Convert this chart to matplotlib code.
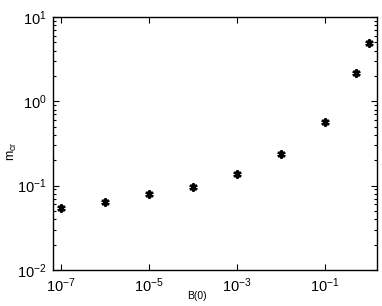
import numpy as np
import matplotlib
matplotlib.use("Agg")
import matplotlib.pyplot as plt
from matplotlib.ticker import LogLocator, NullLocator, NullFormatter

plt.rcParams['font.family'] = 'Liberation Sans'
plt.rcParams['mathtext.fontset'] = 'custom'
plt.rcParams['mathtext.rm'] = 'Liberation Sans'
plt.rcParams['mathtext.it'] = 'Liberation Sans:italic'

# values
b0 = [1e-7, 1e-6, 1e-5, 1e-4, 1e-3, 1e-2, 1e-1, 0.5, 1.0]
m_cr = [0.054, 0.064, 0.080, 0.097, 0.137, 0.235, 0.573, 2.19, 4.88]

fig = plt.figure(figsize=(3.82, 3.06), dpi=100)
ax = fig.add_axes([0.140, 0.118, 0.846, 0.826])

# asterisk markers, MATLAB style
ax.plot(b0, m_cr, linestyle='none', marker=(6, 2, 0), markersize=6,
        markeredgewidth=1.5, color='k')
ax.plot(b0, m_cr, linestyle='none', marker=(4, 2, 45), markersize=5,
        markeredgewidth=1.2, color='k')

ax.set_xscale('log')
ax.set_yscale('log')
ax.set_xlim(10**-7.17, 10**0.175)
ax.set_ylim(1e-2, 1e1)

ax.set_xticks([1e-7, 1e-5, 1e-3, 1e-1])
ax.xaxis.set_minor_locator(NullLocator())
ax.yaxis.set_major_locator(LogLocator(base=10, numticks=10))
ax.yaxis.set_minor_locator(LogLocator(base=10, subs=np.arange(2, 10), numticks=10))
ax.yaxis.set_minor_formatter(NullFormatter())

ax.tick_params(which='both', direction='in', top=True, right=True,
               labelsize=10.5, width=0.8)
ax.tick_params(which='major', length=4, pad=5)
ax.tick_params(which='minor', length=2)
for s in ax.spines.values():
    s.set_linewidth(1.0)

ax.set_xlabel('B(0)', fontsize=7.5)
ax.xaxis.set_label_coords(0.444, -0.085)
ax.set_ylabel(r'm$_{\mathrm{cr}}$', fontsize=9)
ax.yaxis.set_label_coords(-0.108, 0.47)

fig.savefig('out.png', dpi=100)
